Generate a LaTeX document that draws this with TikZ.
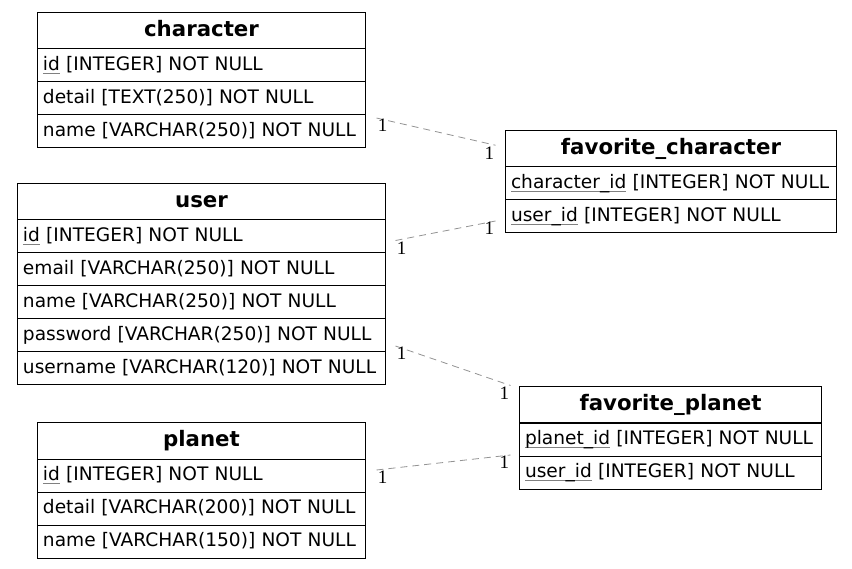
\documentclass[tikz,border=0pt]{standalone}
\usepackage{fontspec}
\setmainfont{DejaVu Sans}
\newfontfamily\cardfont{Liberation Serif}
\usepackage{tikz}
\usetikzlibrary{matrix}

% key columns: thin grey underline
\newcommand{\pk}[1]{\setbox0\hbox{#1}\rlap{\color{gray}\rule[-3.5pt]{\wd0}{0.7pt}}\box0\relax}

\tikzset{
  tbl/.style={matrix of nodes, row sep=-1pt, inner sep=0pt, outer sep=0pt,
    anchor=north west,
    nodes={draw, line width=1pt, text width=#1, align=left, inner xsep=5.5pt,
      minimum height=33pt, text height=13.5pt, text depth=4pt,
      font=\fontsize{18.6}{22}\selectfont},
    row 1/.style={nodes={font=\fontsize{21.3}{24}\selectfont\bfseries,
      align=center, minimum height=36.5pt, text height=15.5pt, text depth=4.5pt}}},
  rel/.style={draw=gray!85, line width=0.8pt, dash pattern=on 7pt off 5pt},
  card/.style={font=\cardfont\fontsize{19}{19}\selectfont, inner sep=1pt},
}

\begin{document}
\begin{tikzpicture}[x=1pt, y=-1pt]
  \useasboundingbox (0,0) rectangle (852,569);

  \matrix (char) [tbl=317pt] at (37,12)
  {
    character \\
    \pk{id} [INTEGER] NOT NULL \\
    detail [TEXT(250)] NOT NULL \\
    name [VARCHAR(250)] NOT NULL \\
  };
  \matrix (user) [tbl=357pt] at (17,183)
  {
    user \\
    \pk{id} [INTEGER] NOT NULL \\
    email [VARCHAR(250)] NOT NULL \\
    name [VARCHAR(250)] NOT NULL \\
    password [VARCHAR(250)] NOT NULL \\
    username [VARCHAR(120)] NOT NULL \\
  };
  \matrix (pl) [tbl=317pt] at (37,422)
  {
    planet \\
    \pk{id} [INTEGER] NOT NULL \\
    detail [VARCHAR(200)] NOT NULL \\
    name [VARCHAR(150)] NOT NULL \\
  };
  \matrix (fch) [tbl=320pt] at (505,130)
  {
    favorite\_character \\
    \pk{character\_id} [INTEGER] NOT NULL \\
    \pk{user\_id} [INTEGER] NOT NULL \\
  };
  \matrix (fpl) [tbl=291pt] at (519,386)
  {
    favorite\_planet \\
    \pk{planet\_id} [INTEGER] NOT NULL \\
    \pk{user\_id} [INTEGER] NOT NULL \\
  };

  \path[rel]
  ([xshift=11pt,yshift=-3pt]char-4-1.north east) edge
    node [card, pos=0, anchor=north west] {1}
    node [card, pos=1, anchor=north east] {1}
    ([xshift=-10pt,yshift=3.5pt]fch-1-1.west)
  ([xshift=10pt,yshift=-4pt]user-2-1.east) edge
    node [card, pos=0, anchor=north west] {1}
    node [card, pos=1, anchor=north east] {1}
    ([xshift=-10pt,yshift=-4.5pt]fch-3-1.west)
  ([xshift=10pt,yshift=-10.5pt]user-5-1.east) edge
    node [card, pos=0, anchor=north west] {1}
    node [card, pos=1, anchor=north east] {1}
    ([xshift=-9pt,yshift=1pt]fpl-1-1.north west)
  ([xshift=11pt,yshift=5.5pt]pl-2-1.east) edge
    node [card, pos=0, anchor=north west] {1}
    node [card, pos=1, anchor=north east] {1}
    ([xshift=-9pt,yshift=1pt]fpl-3-1.north west)
  ;
\end{tikzpicture}
\end{document}
